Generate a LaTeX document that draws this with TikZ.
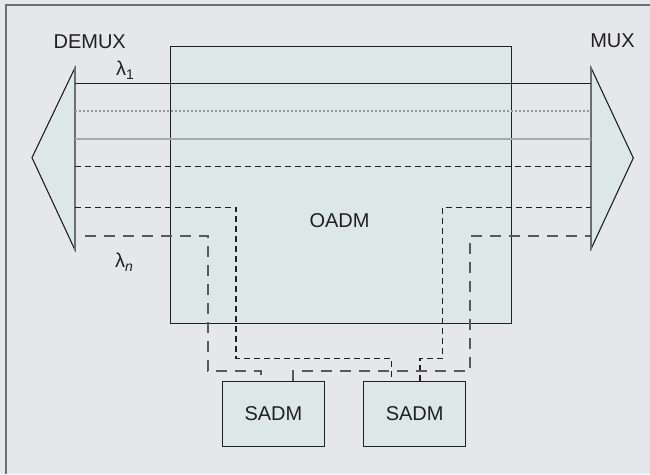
\documentclass[tikz,border=0pt]{standalone}
\usepackage{fontspec}
\setmainfont{Liberation Sans}
\definecolor{bgc}{HTML}{E6E7E8}
\definecolor{boxc}{HTML}{DCE8E5}
\definecolor{framec}{HTML}{6D6E71}
\definecolor{inkc}{HTML}{231F20}
\definecolor{lgray}{HTML}{A7A9AC}
\definecolor{dgray}{HTML}{58595B}
\begin{document}
\begin{tikzpicture}[x=1pt,y=-1pt,
  lbl/.style={font=\fontsize{20}{24}\selectfont, inner sep=0pt, text=inkc},
  box/.style={draw=inkc, line width=1.1pt, fill=boxc, inner sep=0pt,
              font=\fontsize{20}{24}\selectfont, text=inkc},
  tri/.style={draw=inkc, line width=1.1pt, fill=boxc, line join=miter},
  solidline/.style={draw=inkc, line width=1.1pt},
  grayline/.style={draw=lgray, line width=2pt},
  dotline/.style={draw=lgray!90!black, line width=1.1pt, dash pattern=on 2pt off 2pt},
  shortdash/.style={draw=inkc, line width=1.3pt, dash pattern=on 6pt off 4pt},
  longdash/.style={draw=dgray, line width=1.5pt, dash pattern=on 11pt off 8pt}
]
\fill[bgc] (0,0) rectangle (650,474);
\useasboundingbox (0,0) rectangle (650,474);
\draw[framec, line width=2pt] (5.5,474) -- (5.5,5) -- (650,5);

% OADM box
\node[box, minimum width=340.7pt, minimum height=277.6pt, anchor=north west] (oadm) at (170,45.7) {};
\node[lbl] (oadmlbl) at (339.5,220.5) {OADM};

% SADM boxes
\node[box, minimum width=101.7pt, minimum height=65pt, anchor=north west] (s1) at (222,381) {SADM};
\node[box, minimum width=101.7pt, minimum height=65pt, anchor=north west] (s2) at (363.3,381) {SADM};

% demux / mux triangles
\coordinate (dmT) at (75,67.7);
\coordinate (dmB) at (75,250);
\coordinate (dmA) at (32,157.7);
\coordinate (mxT) at (591,67.7);
\coordinate (mxB) at (591,249);
\coordinate (mxA) at (633.3,158);
\draw[tri] (dmT) -- (dmA) -- (dmB) -- cycle;
\draw[tri] (mxT) -- (mxA) -- (mxB) -- cycle;
\draw[framec, line width=1.6pt] (dmT) -- (dmB);
\draw[framec, line width=1.6pt] (mxT) -- (mxB);

% wavelength lines
\coordinate (a1) at (75,83.3);   \coordinate (b1) at (591,83.3);
\coordinate (a2) at (75,111);    \coordinate (b2) at (591,111);
\coordinate (a3) at (75,138.7);  \coordinate (b3) at (591,138.7);
\coordinate (a4) at (75,166.7);  \coordinate (b4) at (591,166.7);
\draw[solidline] (a1) -- (b1);
\draw[dotline] (a2) -- (b2);
\draw[grayline] (a3) -- (b3);
\draw[shortdash] (a4) -- (b4);

% inner drop/add loop (via second SADM)
\coordinate (a5) at (75,207.3);  \coordinate (b5) at (591,207.3);
\coordinate (i1) at (236,207.3); \coordinate (i2) at (236,358.3);
\coordinate (i3) at (391.7,358.3);
\coordinate (i4) at (420,358.3); \coordinate (i5) at (442.7,358.3);
\coordinate (i6) at (442.7,207.3);
\draw[shortdash] (a5) -- (i1) -- (i2) -- (i3) -- (i3 |- s2.north);
\draw[shortdash] (i4 |- s2.north) -- (i4) -- (i5) -- (i6) -- (b5);

% outer drop/add loop (via first SADM)
\coordinate (a6) at (85,236);    \coordinate (b6) at (591,236);
\coordinate (o1) at (208,236);   \coordinate (o2) at (208,371);
\coordinate (o3) at (261,371);
\coordinate (o4) at (293,371);   \coordinate (o5) at (470,371);
\coordinate (o6) at (470,236);
\draw[longdash] (a6) -- (o1) -- (o2) -- (o3) -- (o3 |- s1.north);
\draw[longdash] (o4 |- s1.north) -- (o4) -- (o5) -- (o6) -- (b6);

% labels
\node[lbl] (demuxlbl) at (89.7,41.5) {DEMUX};
\node[lbl] (muxlbl) at (612.5,41.2) {MUX};
\node[lbl, anchor=base west] (lam1) at (116,75) {λ\raisebox{-4pt}{\fontsize{14}{14}\selectfont 1}};
\node[lbl, anchor=base west] (lamn) at (115,267) {λ\raisebox{-4pt}{\fontsize{14}{14}\selectfont\itshape n}};
\end{tikzpicture}
\end{document}
